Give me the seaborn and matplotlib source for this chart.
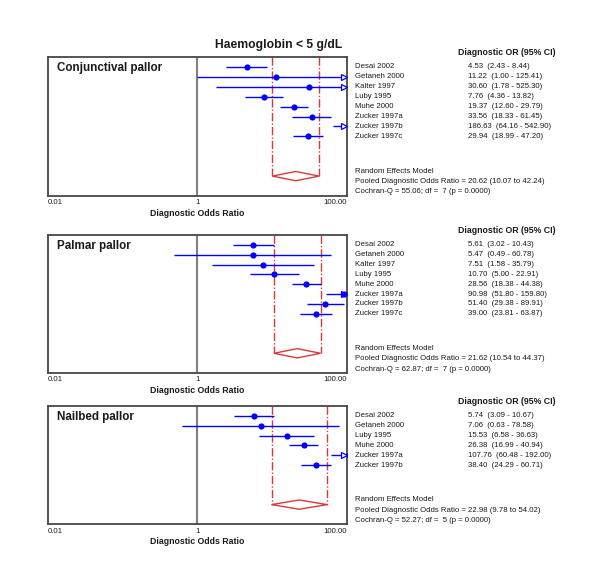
import matplotlib
matplotlib.use("Agg")
import matplotlib.pyplot as plt
import matplotlib.transforms as mtransforms
import numpy as np
import pandas as pd
import seaborn as sns

# data
conj_names = ['Desai 2002', 'Getaneh 2000', 'Kalter 1997', 'Luby 1995', 'Muhe 2000',
              'Zucker 1997a', 'Zucker 1997b', 'Zucker 1997c']
conj_or = [4.53, 11.22, 30.60, 7.76, 19.37, 33.56, 186.63, 29.94]
conj_lo = [2.43, 1.00, 1.78, 4.36, 12.60, 18.33, 64.16, 18.99]
conj_hi = [8.44, 125.41, 525.30, 13.82, 29.79, 61.45, 542.90, 47.20]
conj_pooled = [20.62, 10.07, 42.24]
conj_q = [55.06, 7]

palm_names = conj_names
palm_or = [5.61, 5.47, 7.51, 10.70, 28.56, 90.98, 51.40, 39.00]
palm_lo = [3.02, 0.49, 1.58, 5.00, 18.38, 51.80, 29.38, 23.81]
palm_hi = [10.43, 60.78, 35.79, 22.91, 44.38, 159.80, 89.91, 63.87]
palm_pooled = [21.62, 10.54, 44.37]
palm_q = [62.87, 7]

nail_names = ['Desai 2002', 'Getaneh 2000', 'Luby 1995', 'Muhe 2000',
              'Zucker 1997a', 'Zucker 1997b']
nail_or = [5.74, 7.06, 15.53, 26.38, 107.76, 38.40]
nail_lo = [3.09, 0.63, 6.58, 16.99, 60.48, 24.29]
nail_hi = [10.67, 78.58, 36.63, 40.94, 192.00, 60.71]
nail_pooled = [22.98, 9.78, 54.02]
nail_q = [52.27, 5]

x_ticks = [0.01, 1, 100]
x_ticklabels = ['0.01', '1', '100.00']

sns.set_theme(style='white')
plt.rcParams['font.family'] = ['Liberation Sans', 'DejaVu Sans']

BLUE = '#0000ff'
RED = '#d83a3a'
FRAME = '#474747'
TXT = '#1a1a1a'
fs_small = 5.6


def draw_panel(ax, label, names, ors, los, his, pooled, q):
    n = len(names)
    df = pd.DataFrame({'study': names, 'or': ors, 'lo': los, 'hi': his})
    df['row'] = np.arange(n)
    xmin, xmax = x_ticks[0], x_ticks[-1]

    ax.set_xscale('log')
    ax.set_xlim(xmin, xmax)
    ax.set_ylim(n + 5, -1)

    # reference line at OR = 1
    ax.axvline(1, color='#808080', lw=1.5, zorder=1)

    # pooled CI lines down to the diamond
    est, plo, phi = pooled
    ydia = n + 3
    for xv in (plo, phi):
        ax.plot([xv, xv], [-1, ydia], color=RED, lw=1, ls=(0, (6, 1.5, 1, 1.5)), zorder=2)
    ax.fill([plo, est, phi, est], [ydia, ydia - 0.47, ydia, ydia + 0.47],
            facecolor='none', edgecolor=RED, lw=1, zorder=2)

    # confidence intervals
    ax.hlines(df['row'], df['lo'], df['hi'].clip(upper=xmax), color=BLUE, lw=1, zorder=3)
    over = df[df['hi'] > xmax]
    shift = mtransforms.ScaledTranslation(-2.5 / 72, 0, ax.figure.dpi_scale_trans)
    ax.plot(np.full(len(over), xmax), over['row'], ls='none', marker='>', ms=5,
            mfc='white', mec=BLUE, mew=0.9, clip_on=False, zorder=4,
            transform=ax.transData + shift)

    # point estimates
    sns.scatterplot(data=df, x='or', y='row', ax=ax, color=BLUE, s=20,
                    edgecolor=BLUE, linewidth=0, zorder=5, legend=False)

    ax.set_yticks([])
    ax.set_ylabel('')
    ax.set_xticks(x_ticks)
    ax.set_xticklabels(x_ticklabels, fontsize=fs_small, color=TXT)
    ax.xaxis.set_minor_locator(matplotlib.ticker.NullLocator())
    tl = ax.get_xticklabels()
    tl[0].set_ha('left')
    tl[-1].set_ha('right')
    ax.tick_params(axis='x', length=0, pad=2.5)
    ax.set_xlabel('Diagnostic Odds Ratio', fontsize=6.3, fontweight='bold', color=TXT, labelpad=1.5)
    for sp in ax.spines.values():
        sp.set_color(FRAME)
        sp.set_linewidth(1.3)

    ax.text(0.03, 0.15, label, transform=ax.get_yaxis_transform(), fontsize=8.4,
            fontweight='bold', color=TXT, va='center', ha='left')

    # right hand text column
    trans = ax.get_yaxis_transform()
    ax.text(1.371, -1.5, 'Diagnostic OR (95% CI)', transform=trans, fontsize=6.3,
            fontweight='bold', color=TXT, va='center', ha='left', clip_on=False)
    for _, r in df.iterrows():
        ax.text(1.027, r['row'], r['study'], transform=trans, fontsize=fs_small,
                color=TXT, va='center', ha='left', clip_on=False)
        ax.text(1.404, r['row'], f"{r['or']:.2f}  ({r['lo']:.2f} - {r['hi']:.2f})",
                transform=trans, fontsize=fs_small, color=TXT, va='center', ha='left',
                clip_on=False)
    ax.text(1.027, n + 2.5, 'Random Effects Model', transform=trans, fontsize=fs_small,
            color=TXT, va='center', ha='left', clip_on=False)
    ax.text(1.027, n + 3.55,
            f'Pooled Diagnostic Odds Ratio = {est:.2f} ({plo:.2f} to {phi:.2f})',
            transform=trans, fontsize=fs_small, color=TXT, va='center', ha='left', clip_on=False)
    ax.text(1.027, n + 4.6, f'Cochran-Q = {q[0]:.2f}; df =  {q[1]} (p = 0.0000)',
            transform=trans, fontsize=fs_small, color=TXT, va='center', ha='left', clip_on=False)


fig = plt.figure(figsize=(6, 5.68), dpi=100)
ax1 = fig.add_axes([0.08, 0.655, 0.4983, 0.2447])
ax2 = fig.add_axes([0.08, 0.3433, 0.4983, 0.2430])
ax3 = fig.add_axes([0.08, 0.0769, 0.4983, 0.2083])

draw_panel(ax1, 'Conjunctival pallor', conj_names, conj_or, conj_lo, conj_hi, conj_pooled, conj_q)
draw_panel(ax2, 'Palmar pallor', palm_names, palm_or, palm_lo, palm_hi, palm_pooled, palm_q)
draw_panel(ax3, 'Nailbed pallor', nail_names, nail_or, nail_lo, nail_hi, nail_pooled, nail_q)

fig.text(279 / 600, 1 - 45 / 568, 'Haemoglobin < 5 g/dL', fontsize=8.7, fontweight='bold',
         color=TXT, ha='center', va='center')

fig.savefig('out.png', dpi=100, facecolor='white')
